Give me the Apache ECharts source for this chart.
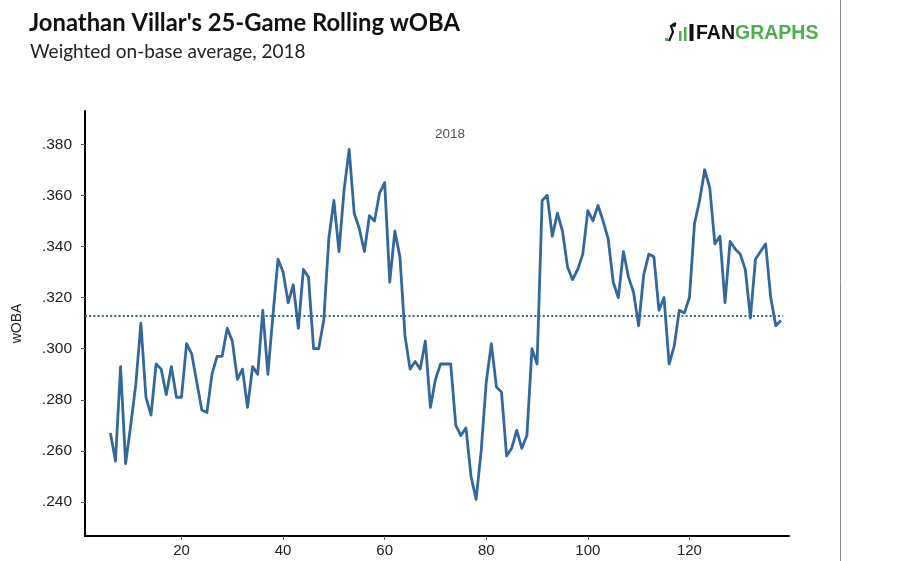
<!DOCTYPE html>
<html>
<head>
<meta charset="utf-8">
<script src="https://cdn.jsdelivr.net/npm/echarts@6/dist/echarts.min.js"></script>
<style>
html,body{margin:0;padding:0;background:#fff;}
#chart{width:904px;height:561px;}
</style>
</head>
<body>
<div id="chart"></div>
<script>
// Game numbers (x) and 25-game rolling wOBA (y)
var games = [];
for (var g = 6; g <= 138; g++) games.push(g);
var woba = [
  0.267,0.256,0.293,0.255,0.270,0.286,0.310,0.281,0.274,0.294,
  0.292,0.282,0.293,0.281,0.281,0.302,0.298,0.287,0.276,0.275,
  0.290,0.297,0.297,0.308,0.303,0.288,0.292,0.277,0.293,0.290,
  0.315,0.290,0.313,0.335,0.330,0.318,0.325,0.308,0.331,0.328,
  0.300,0.300,0.311,0.343,0.358,0.338,0.362,0.378,0.353,0.347,
  0.338,0.352,0.350,0.361,0.365,0.326,0.346,0.336,0.305,0.292,
  0.295,0.292,0.303,0.277,0.288,0.294,0.294,0.294,0.270,0.266,
  0.269,0.250,0.241,0.260,0.287,0.302,0.285,0.283,0.258,0.261,
  0.268,0.261,0.266,0.300,0.294,0.358,0.360,0.344,0.353,0.346,
  0.332,0.327,0.331,0.337,0.354,0.350,0.356,0.350,0.343,0.326,
  0.320,0.338,0.328,0.322,0.309,0.329,0.337,0.336,0.315,0.320,
  0.294,0.301,0.315,0.314,0.320,0.349,0.358,0.370,0.363,0.341,
  0.344,0.318,0.342,0.339,0.337,0.331,0.312,0.335,0.338,0.341,
  0.320,0.309,0.311
];
var seasonAvg = 0.3127;
var xTicks = [20, 40, 60, 80, 100, 120];
var yTicks = [0.240, 0.260, 0.280, 0.300, 0.320, 0.340, 0.360, 0.380];
var facetLabel = '2018';

var data = games.map(function (g, i) { return [g, woba[i]]; });
var lineColor = '#34689b';

var chart = echarts.init(document.getElementById('chart'), null, {renderer: 'canvas'});
chart.setOption({
  animation: false,
  backgroundColor: '#ffffff',
  title: [
    {text: "Jonathan Villar's 25-Game Rolling wOBA", left: 24, top: 6,
     textStyle: {fontFamily: 'Lato', fontWeight: 'bold', fontSize: 23.8, color: '#111'}},
    {text: 'Weighted on-base average, 2018', left: 25, top: 37,
     textStyle: {fontFamily: 'Lato', fontWeight: 'normal', fontSize: 19, color: '#222'}},
    {text: facetLabel, left: 445, top: 122, textAlign: 'center',
     textStyle: {fontFamily: 'Liberation Sans', fontWeight: 'normal', fontSize: 13.5, color: '#555'}}
  ],
  grid: {left: 85, top: 111, right: 115, bottom: 25, containLabel: false},
  xAxis: {
    type: 'value', min: 1, max: 139.6,
    axisLine: {show: true, onZero: false, lineStyle: {color: '#000', width: 2}},
    axisTick: {show: true, length: 4, lineStyle: {color: '#555'}, customValues: xTicks},
    axisLabel: {show: true, customValues: xTicks, color: '#222', fontSize: 15,
                fontFamily: 'Liberation Sans', margin: 7},
    splitLine: {show: false}
  },
  yAxis: {
    type: 'value', min: 0.2267, max: 0.393,
    name: 'wOBA', nameLocation: 'middle', nameGap: 61, nameRotate: 90,
    nameTextStyle: {fontFamily: 'Liberation Sans', fontSize: 14, color: '#222'},
    axisLine: {show: true, onZero: false, lineStyle: {color: '#000', width: 2}},
    axisTick: {show: true, length: 4, lineStyle: {color: '#555'}, customValues: yTicks},
    axisLabel: {show: true, customValues: yTicks, color: '#222', fontSize: 15.5,
                fontFamily: 'Liberation Sans', margin: 13,
                formatter: function (v) { return '.' + Math.round(v * 1000); }},
    splitLine: {show: false}
  },
  series: [{
    type: 'line', data: data, symbol: 'none', smooth: false,
    lineStyle: {color: lineColor, width: 2.8, join: 'round'},
    markLine: {
      silent: true, symbol: 'none', label: {show: false},
      lineStyle: {color: lineColor, type: [2, 2.2], width: 2},
      data: [[{coord: [1, seasonAvg]}, {coord: [138.4, seasonAvg]}]]
    }
  }],
  graphic: [
    {type: 'line', shape: {x1: 840.5, y1: 0, x2: 840.5, y2: 561},
     style: {stroke: '#8a8a8a', lineWidth: 1}},
    {type: 'rect', shape: {x: 665, y: 38, width: 3, height: 3}, style: {fill: '#4cae4c'}},
    {type: 'polyline', shape: {points: [[669, 41], [673, 32], [671, 26], [676, 23]]},
     style: {stroke: '#111', lineWidth: 2.2, fill: null}},
    {type: 'circle', shape: {cx: 674, cy: 25, r: 2}, style: {fill: '#111'}},
    {type: 'rect', shape: {x: 679, y: 31, width: 2.5, height: 10}, style: {fill: '#4cae4c'}},
    {type: 'rect', shape: {x: 684, y: 27, width: 2.5, height: 14}, style: {fill: '#4cae4c'}},
    {type: 'rect', shape: {x: 689.5, y: 24, width: 4, height: 17}, style: {fill: '#111'}},
    {type: 'text', x: 696, y: 24, style: {
      text: '{a|FAN}{b|GRAPHS}',
      rich: {
        a: {fontFamily: 'Liberation Sans', fontWeight: 'bold', fontSize: 19.5, fill: '#111'},
        b: {fontFamily: 'Liberation Sans', fontWeight: 'bold', fontSize: 19.5, fill: '#4cae4c'}
      }
    }}
  ]
});
</script>
</body>
</html>
